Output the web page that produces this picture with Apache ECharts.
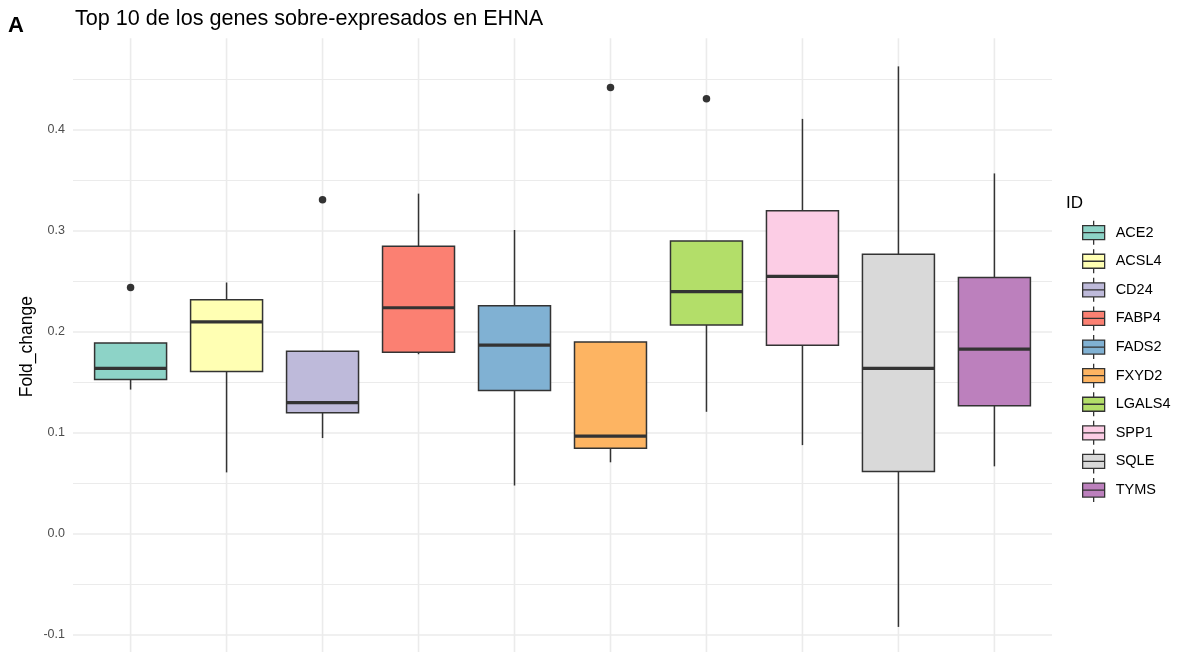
<!DOCTYPE html>
<html>
<head>
<meta charset="utf-8">
<title>Top 10 de los genes sobre-expresados en EHNA</title>
<script src="https://cdn.jsdelivr.net/npm/echarts@6/dist/echarts.min.js"></script>
<style>
  html, body { margin: 0; padding: 0; background: #ffffff; }
  #chart { width: 1178px; height: 652px; }
</style>
</head>
<body>
<div id="chart"></div>
<script>
// Genes and their box statistics (Fold_change)
const genes   = ['ACE2', 'ACSL4', 'CD24', 'FABP4', 'FADS2', 'FXYD2', 'LGALS4', 'SPP1', 'SQLE', 'TYMS'];
const lower   = [0.143, 0.061, 0.095, 0.178, 0.048, 0.071, 0.121, 0.088, -0.092, 0.067];
const q1      = [0.153, 0.161, 0.120, 0.180, 0.142, 0.085, 0.207, 0.187, 0.062, 0.127];
const median  = [0.164, 0.210, 0.130, 0.224, 0.187, 0.097, 0.240, 0.255, 0.164, 0.183];
const q3      = [0.189, 0.232, 0.181, 0.285, 0.226, 0.190, 0.290, 0.320, 0.277, 0.254];
const upper   = [0.189, 0.249, 0.181, 0.337, 0.301, 0.190, 0.290, 0.411, 0.463, 0.357];

// Outlying points
const outlierGene  = ['ACE2', 'CD24', 'FXYD2', 'LGALS4'];
const outlierValue = [0.244, 0.331, 0.442, 0.431];

// Fill colours per gene (ColorBrewer Set3)
const colors = ['#8DD3C7', '#FFFFB3', '#BEBADA', '#FB8072', '#80B1D3',
                '#FDB462', '#B3DE69', '#FCCDE5', '#D9D9D9', '#BC80BD'];

// Labelled y ticks
const yTicks = [-0.1, 0.0, 0.1, 0.2, 0.3, 0.4];

// ---- layout ----
const FONT = "'Liberation Sans', Arial, Helvetica, sans-serif";
const INK = '#333333';
const GRID_COLOR = '#EBEBEB';
const PANEL_LEFT = 73;
const PANEL_WIDTH = 979;
const PX_PER_UNIT = 1010;     // vertical pixels per unit of Fold_change
const ZERO_Y = 534;           // pixel row of Fold_change = 0
const BOX_WIDTH = 0.75;       // in category units
const X_PAD = 0.6;            // discrete axis padding on both sides
const LINE_W = 1.5;           // box outline and whiskers
const MEDIAN_W = 3.2;

// panel's vertical range: data range expanded by 5% on both ends
const allValues = lower.concat(upper, outlierValue);
const dMin = Math.min.apply(null, allValues);
const dMax = Math.max.apply(null, allValues);
const pad = 0.05 * (dMax - dMin);
const yLo = dMin - pad;
const yHi = dMax + pad;

// background grid axis range (nice bounds, lines only)
const GRID_MIN = -0.2, GRID_MAX = 0.5;

const xMin = -X_PAD, xMax = genes.length - 1 + X_PAD;

function renderBox(params, api) {
  const x = api.value(0);
  const pLo = api.coord([x, api.value(1)]);
  const pQ1 = api.coord([x, api.value(2)]);
  const pMd = api.coord([x, api.value(3)]);
  const pQ3 = api.coord([x, api.value(4)]);
  const pHi = api.coord([x, api.value(5)]);
  const half = api.size([BOX_WIDTH, 0])[0] / 2;
  const cx = pQ1[0];
  const thin = { stroke: INK, lineWidth: LINE_W };
  return {
    type: 'group',
    children: [
      { type: 'line', shape: { x1: cx, y1: pQ3[1], x2: cx, y2: pHi[1] }, style: thin },
      { type: 'line', shape: { x1: cx, y1: pQ1[1], x2: cx, y2: pLo[1] }, style: thin },
      { type: 'rect', shape: { x: cx - half, y: pQ3[1], width: 2 * half, height: pQ1[1] - pQ3[1] },
        style: { fill: api.visual('color'), stroke: INK, lineWidth: LINE_W } },
      { type: 'line', shape: { x1: cx - half, y1: pMd[1], x2: cx + half, y2: pMd[1] },
        style: { stroke: INK, lineWidth: MEDIAN_W } }
    ]
  };
}

function renderVGrid(params, api) {
  const x = api.value(0);
  const top = api.coord([x, yHi]);
  const bot = api.coord([x, yLo]);
  return { type: 'line', shape: { x1: top[0], y1: top[1], x2: bot[0], y2: bot[1] },
           style: { stroke: GRID_COLOR, lineWidth: 1.6 } };
}

// legend key: box with median line and whisker stubs
const KEY_ICON = 'path://M0,5H22V19H0ZM0,12H22M11,0V5M11,19V24';

const boxSeries = genes.map(function (g, i) {
  return {
    name: g,
    type: 'custom',
    xAxisIndex: 1,
    yAxisIndex: 1,
    z: 3,
    itemStyle: { color: colors[i] },
    encode: { x: 0, y: [1, 2, 3, 4, 5] },
    renderItem: renderBox,
    data: [[i, lower[i], q1[i], median[i], q3[i], upper[i]]]
  };
});

const option = {
  animation: false,
  backgroundColor: '#ffffff',
  textStyle: { fontFamily: FONT },
  title: [
    { text: 'Top 10 de los genes sobre-expresados en EHNA', left: 70, top: 3,
      textStyle: { fontFamily: FONT, fontSize: 21.6, fontWeight: 'normal', color: '#000000' } },
    { text: 'A', left: 3, top: 10,
      textStyle: { fontFamily: FONT, fontSize: 22, fontWeight: 'bold', color: '#000000' } },
    { text: 'ID', left: 1061, top: 190,
      textStyle: { fontFamily: FONT, fontSize: 17, fontWeight: 'normal', color: '#000000' } }
  ],
  legend: {
    orient: 'vertical',
    left: 1077,
    top: 215,
    itemWidth: 22,
    itemHeight: 24,
    itemGap: 3.3,
    selectedMode: false,
    textStyle: { fontFamily: FONT, fontSize: 14.5, color: '#000000', padding: [0, 0, 0, 6] },
    data: genes.map(function (g, i) {
      return { name: g, icon: KEY_ICON,
               itemStyle: { color: colors[i], borderColor: INK, borderWidth: 1.3 } };
    })
  },
  grid: [
    // background lines and tick labels
    { left: PANEL_LEFT, width: PANEL_WIDTH, outerBoundsMode: 'none', containLabel: false,
      top: ZERO_Y - GRID_MAX * PX_PER_UNIT, height: (GRID_MAX - GRID_MIN) * PX_PER_UNIT },
    // data panel
    { left: PANEL_LEFT, width: PANEL_WIDTH, outerBoundsMode: 'none', containLabel: false,
      top: ZERO_Y - yHi * PX_PER_UNIT, height: (yHi - yLo) * PX_PER_UNIT }
  ],
  xAxis: [
    { gridIndex: 0, type: 'value', min: xMin, max: xMax, show: false },
    { gridIndex: 1, type: 'value', min: xMin, max: xMax, show: false }
  ],
  yAxis: [
    { gridIndex: 0, type: 'value', min: GRID_MIN, max: GRID_MAX, interval: 0.1,
      axisLine: { show: false }, axisTick: { show: false },
      axisLabel: {
        show: true, margin: 8, color: '#4D4D4D', fontSize: 12.5, fontFamily: FONT,
        showMinLabel: true, showMaxLabel: true,
        formatter: function (v) {
          const hit = yTicks.find(function (t) { return Math.abs(t - v) < 1e-9; });
          return hit === undefined ? '' : hit.toFixed(1);
        }
      },
      splitLine: { show: true, showMaxLine: false, showMinLine: false,
                   lineStyle: { color: GRID_COLOR, width: 1.6 } },
      minorTick: { show: false, splitNumber: 2 },
      minorSplitLine: { show: true, lineStyle: { color: GRID_COLOR, width: 1.1 } }
    },
    { gridIndex: 1, type: 'value', min: yLo, max: yHi,
      name: 'Fold_change', nameLocation: 'middle', nameGap: 37,
      nameTextStyle: { fontFamily: FONT, fontSize: 17.5, color: '#000000' },
      axisLine: { show: false }, axisTick: { show: false },
      axisLabel: { show: false }, splitLine: { show: false }
    }
  ],
  series: [
    {
      name: 'xgrid',
      type: 'custom',
      xAxisIndex: 1,
      yAxisIndex: 1,
      z: 1,
      silent: true,
      encode: { x: 0 },
      renderItem: renderVGrid,
      data: genes.map(function (g, i) { return [i]; })
    }
  ].concat(boxSeries, [
    {
      name: 'outliers',
      type: 'scatter',
      xAxisIndex: 1,
      yAxisIndex: 1,
      z: 4,
      symbol: 'circle',
      symbolSize: 7.5,
      itemStyle: { color: INK, opacity: 1 },
      data: outlierGene.map(function (g, k) { return [genes.indexOf(g), outlierValue[k]]; })
    }
  ])
};

const chart = echarts.init(document.getElementById('chart'), null, { renderer: 'canvas' });
chart.setOption(option);
</script>
</body>
</html>
